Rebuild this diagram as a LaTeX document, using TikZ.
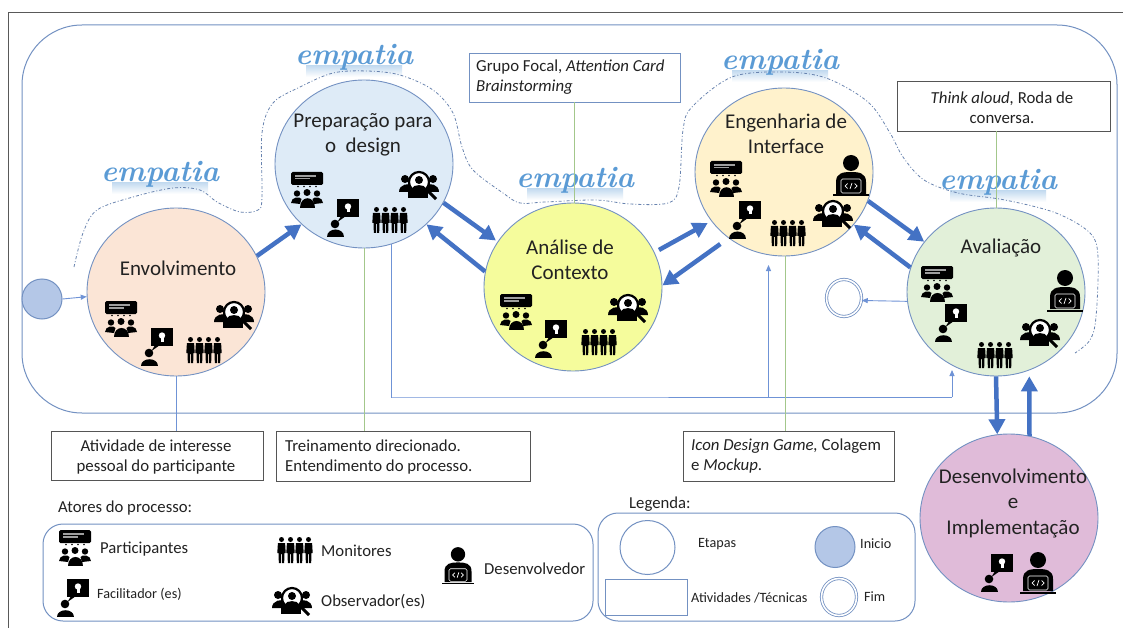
\documentclass[tikz,border=0pt]{standalone}
\usepackage{fontspec}
\setmainfont{Carlito}
\newfontfamily\empf{Latin Modern Roman}
\usetikzlibrary{shapes.geometric,arrows.meta,calc}
\definecolor{stk}{HTML}{7391C2}
\definecolor{thinb}{HTML}{6F93D6}
\definecolor{thickb}{HTML}{4472C4}
\definecolor{grn}{HTML}{A3C78B}
\definecolor{boxg}{HTML}{555555}
\definecolor{txt}{HTML}{222222}
\definecolor{emp}{HTML}{5B9BD5}
\tikzset{
 x=1pt,y=-1pt,
 stage/.style={ellipse,draw=stk,line width=.9pt,inner sep=0pt,minimum width=178pt,minimum height=168pt},
 title/.style={inner sep=0pt,align=center,text=txt,font=\fontsize{21}{25.5}\selectfont},
 note/.style={draw=boxg,line width=.9pt,fill=white,inner sep=0pt},
 notetext/.style={inner sep=0pt,text=txt,font=\fontsize{16.8}{20}\selectfont},
 lab/.style={inner sep=0pt,anchor=west,text=txt,font=\fontsize{16.7}{19}\selectfont},
 smalllab/.style={inner sep=0pt,anchor=west,text=txt,font=\fontsize{14.2}{16}\selectfont},
 thinarrow/.style={draw=thinb,line width=.9pt,-{Triangle[length=6pt,width=5pt]}},
 thinline/.style={draw=thinb,line width=.9pt},
 greenline/.style={draw=grn,line width=1pt},
 thickarrow/.style={draw=thickb,line width=4.5pt,-{Triangle[length=15pt,width=16pt]}},
 legbox/.style={draw=stk,line width=1pt,rounded corners=20pt},
 emptext/.style={inner sep=0pt,text=emp,font=\empf\bfseries\itshape\fontsize{30}{30}\selectfont},
 partic/.pic={
  \fill[black,rounded corners=1.5pt] (-16,-18) rectangle (16,-5);
  \fill[gray!75] (-12,-15) rectangle (9,-13.2);
  \fill[gray!75] (-12,-12) rectangle (3,-10.5);
  \fill[black] (-9,-3.5) circle (.9) (-3,-3.5) circle (.9) (3,-3.5) circle (.9) (9,-3.5) circle (.9);
  \fill[black] (-10,3.5) circle (3.2) (0,2.5) circle (3.5) (10,3.5) circle (3.2);
  \fill[black] (-16,13) .. controls (-16,7) and (-7,6) .. (-5.5,9) -- (-7,14) -- cycle;
  \fill[black] (16,13) .. controls (16,7) and (7,6) .. (5.5,9) -- (7,14) -- cycle;
  \fill[black] (-7.5,18) .. controls (-7.5,5.5) and (7.5,5.5) .. (7.5,18) -- cycle;
 },
 facil/.pic={
  \fill[black] (-6,-19) rectangle (16,-1);
  \fill[black] (-2,-2) -- (-5.5,4) -- (3,-2) -- cycle;
  \fill[white] (5,-11.5) circle (3.2);
  \fill[white] (3.5,-9) rectangle (6.5,-5.5);
  \fill[black] (-8,6) circle (4.3);
  \fill[black] (-16.5,19) .. controls (-16.5,9.5) and (.5,9.5) .. (.5,19) -- cycle;
 },
 monit/.pic={
  \foreach \px in {-13.5,-4.5,4.5,13.5}{
   \fill[black] (\px,-10.5) circle (2.5);
   \fill[black] ({\px-3.6},-7) -- ({\px+3.6},-7) -- ({\px+4.2},3) -- ({\px+2.9},3) -- ({\px+2.7},13) -- ({\px+.5},13) -- ({\px+.5},4) -- ({\px-.5},4) -- ({\px-.5},13) -- ({\px-2.7},13) -- ({\px-2.9},3) -- ({\px-4.2},3) -- cycle;
  }
 },
 observ/.pic={
  \fill[black] (-14,-7) circle (4) (14,-7) circle (4);
  \fill[black] (-20,6) .. controls (-20,-2) and (-10,-3) .. (-7,-1) -- (-7,6) -- cycle;
  \fill[black] (20,6) .. controls (20,-2) and (10,-3) .. (7,-1) -- (7,6) -- cycle;
  \fill[black] (-11,2) rectangle (9,12);
  \draw[black,line width=2.2pt,fill=white] (0,-4) circle (10);
  \fill[black] (0,-6) circle (4);
  \fill[black] (-7,2.5) .. controls (-6,-2) and (6,-2) .. (7,2.5) -- (4,5) -- (-4,5) -- cycle;
  \draw[black,line width=3pt] (7,3) -- (17,13);
 },
 devel/.pic={
  \fill[black] (0,-13) circle (8);
  \fill[black] (-15,18) -- (-15,6) .. controls (-15,-3) and (-8,-4) .. (0,-4) .. controls (8,-4) and (15,-3) .. (15,6) -- (15,18) -- cycle;
  \draw[white,line width=.6pt,fill=black,rounded corners=1.5pt] (-10,3) rectangle (10,17);
  \fill[black] (-18,18.5) rectangle (18,20.5);
  \draw[white,line width=.7pt] (-3.5,7.5) -- (-6,10) -- (-3.5,12.5) (3.5,7.5) -- (6,10) -- (3.5,12.5) (1,7) -- (-1,13);
 },
}
\newcommand{\empword}[3]{%
 \shade[top color=emp!35,bottom color=white] (#2-48,#3+6) rectangle (#2+48,#3+17);
 \node[emptext] (#1) at (#2,#3-3) {empatia};
}
\begin{document}
\begin{tikzpicture}
\useasboundingbox (0,0) rectangle (1123,628);
\fill[white] (0,0) rectangle (1123,628);
% outer frame
\draw[gray!70!black,line width=1pt] (8,628) -- (8,13) -- (1123,13);
\draw[stk,line width=1pt,rounded corners=60pt] (22,25) rectangle (1117,413);
% empathy words
\empword{emp1}{160}{177}
\empword{emp2}{354}{60}
\empword{emp3}{575}{183}
\empword{emp4}{780}{65}
\empword{emp5}{998}{185}
% empathy curve
\draw[stk!90!black,line width=.8pt,dash pattern=on 3pt off 2pt on 1pt off 2pt] plot[smooth,tension=.55] coordinates {(74,267) (83,233) (97,210) (133,197) (173,188) (200,190) (217,202) (240,212) (258,210) (262,197) (262,133) (273,103) (300,87) (333,73) (367,71) (400,75) (433,90) (453,113) (462,147) (473,170) (503,193) (520,203) (545,202) (596,200) (630,204) (668,203) (679,187) (683,130) (692,107) (732,77) (783,72) (826,78) (868,102) (890,133) (903,157) (924,180) (958,193) (1005,200) (1056,213) (1090,233) (1098,257) (1096,317) (1090,340) (1075,353)};
% stages
\node[stage,fill={rgb,255:red,251;green,229;blue,214}] (env) at (176,292) {};
\node[stage,fill={rgb,255:red,222;green,235;blue,247}] (prep) at (364,164) {};
\node[stage,fill={rgb,255:red,245;green,252;blue,156}] (ctx) at (573,287) {};
\node[stage,fill={rgb,255:red,255;green,242;blue,204}] (eng) at (784,172) {};
\node[stage,fill={rgb,255:red,226;green,240;blue,217}] (aval) at (996,292) {};
\node[stage,fill={rgb,255:red,224;green,187;blue,217}] (impl) at (1009,518) {};
\node[ellipse,draw=stk,line width=1pt,fill={rgb,255:red,180;green,199;blue,231},minimum width=40pt,minimum height=40pt,inner sep=0pt] (start) at (42,299) {};
\node[ellipse,draw=stk,line width=.8pt,double=white,double distance=1.6pt,fill=white,minimum width=35pt,minimum height=37pt,inner sep=0pt] (endc) at (844,298) {};
% titles
\node[title] (t1) at (178,268) {Envolvimento};
\node[title] (t2) at (363,135) {Preparação para\\o\ \ design};
\node[title] (t3) at (570,260) {Análise de\\Contexto};
\node[title] (t4) at (786,134) {Engenharia de\\Interface};
\node[title] (t5) at (1001,248) {Avaliação};
\node[title] (t6) at (1013,503) {Desenvolvimento\\e\\Implementação};
% notes
\node[note,draw=stk,minimum width=211pt,minimum height=49pt] (grupo) at (574.5,77.5) {};
\node[notetext,align=left,anchor=west] (grupot) at (476,77) {Grupo Focal, \textit{Attention Card}\\\textit{Brainstorming}};
\node[note,minimum width=213pt,minimum height=50pt] (think) at (1003.5,106) {};
\node[notetext,align=center] (thinkt) at (1002,107.5) {\textit{Think aloud,} Roda de\\conversa.};
\node[note,minimum width=212pt,minimum height=49pt] (ativ) at (157,455.5) {};
\node[notetext,align=center] (ativt) at (156,457) {Atividade de interesse\\pessoal do participante};
\node[note,minimum width=254pt,minimum height=50pt] (trein) at (403,456) {};
\node[notetext,align=left,anchor=west] (treint) at (285,457) {Treinamento direcionado.\\Entendimento do processo.};
\node[note,minimum width=211pt,minimum height=50pt] (icond) at (788.5,456) {};
\node[notetext,align=left,anchor=west] (icondt) at (691,456) {\textit{Icon Design Game,} Colagem\\e \textit{Mockup}.};
% thin connectors
\draw[thinarrow] (start.east) -- (env.183);
\draw[thinarrow] (aval.186) -- (endc.-8);
\draw[thinline] (env.south) -- (env.south |- ativ.north);
\coordinate (busL) at (391,397);
\coordinate (busM) at (768.5,397);
\coordinate (busR) at (952,397);
\coordinate (engin) at (768.5,265);
\coordinate (avalin) at (952,370);
\draw[thinline] (prep.-71) -- (prep.-71 |- busL) -- (busL) -- (busR);
\draw[thinarrow] (busR) -- (avalin);
\draw[thinarrow] (busM) -- (engin);
\draw[greenline] (prep.south) -- (prep.south |- trein.north);
\draw[greenline] (eng.-89) -- (eng.-89 |- icond.north);
\draw[greenline] (grupo.south) -- (grupo.south |- ctx.north);
\draw[greenline] (aval.north) -- (aval.north |- think.south);
% thick connectors
\draw[thickarrow] (env.24) -- (prep.224);
\draw[thickarrow,shorten >=2pt] (prep.-26) -- (ctx.149);
\draw[thickarrow] (ctx.170) -- (prep.-44);
\draw[thickarrow,shorten <=5pt,shorten >=4pt] (ctx.23) -- (eng.214);
\draw[thickarrow,shorten <=10pt] (eng.230) -- (ctx.1);
\draw[thickarrow] (eng.-19) -- (aval.145);
\draw[thickarrow] (aval.164) -- (eng.-37);
\draw[thickarrow] (aval.-90) -- (impl.98);
\draw[thickarrow,shorten >=6pt] (impl.76.5) -- (aval.-67);
% icons
\pic at (121,319) {partic};
\pic at (157,347) {facil};
\pic at (204,350) {monit};
\pic at (234,316) {observ};
\pic at (307,190) {partic};
\pic at (343,218) {facil};
\pic at (390,220) {monit};
\pic at (419,186) {observ};
\pic at (516,312) {partic};
\pic at (551,339) {facil};
\pic at (599,342) {monit};
\pic at (628,309) {observ};
\pic at (726,179) {partic};
\pic at (745,220) {facil};
\pic at (788,233) {monit};
\pic at (833,215) {observ};
\pic at (851,176) {devel};
\pic at (937,284) {partic};
\pic at (951,323) {facil};
\pic at (995,355) {monit};
\pic at (1040,334) {observ};
\pic at (1065,291) {devel};
\pic at (997,573) {facil};
\pic at (1038,573) {devel};
% actors legend
\node[lab] (atores) at (58,508) {Atores do processo:};
\draw[legbox] (43,524) rectangle (593,621);
\pic at (75,548) {partic};
\node[lab] (lpart) at (100,549) {Participantes};
\pic at (295,550) {monit};
\node[lab] (lmon) at (321,551) {Monitores};
\pic[scale=.9] at (458,566) {devel};
\node[lab] (ldev) at (484,569) {Desenvolvedor};
\pic at (73,598) {facil};
\node[smalllab] (lfac) at (97,594) {Facilitador (es)};
\pic at (292,602) {observ};
\node[lab] (lobs) at (321,602) {Observador(es)};
% key
\node[lab] (legenda) at (629,504) {Legenda:};
\draw[legbox] (598,513) rectangle (915,621);
\node[ellipse,draw=stk,line width=1pt,minimum width=55pt,minimum height=54pt,inner sep=0pt] (ketapa) at (647.5,547.5) {};
\node[smalllab] (letapa) at (698,544) {Etapas};
\node[ellipse,draw=stk,line width=1pt,fill={rgb,255:red,180;green,199;blue,231},minimum width=40pt,minimum height=41pt,inner sep=0pt] (kini) at (835,547) {};
\node[smalllab] (lini) at (860,544) {Inicio};
\node[draw=stk,line width=1pt,minimum width=82pt,minimum height=36pt,inner sep=0pt] (krect) at (646,597) {};
\node[smalllab] (lativ) at (691,598) {Atividades /Técnicas};
\node[ellipse,draw=stk,line width=.8pt,double=white,double distance=1.6pt,minimum width=35pt,minimum height=37pt,inner sep=0pt] (kfim) at (839,597) {};
\node[smalllab] (lfim) at (864,597) {Fim};
\end{tikzpicture}
\end{document}
